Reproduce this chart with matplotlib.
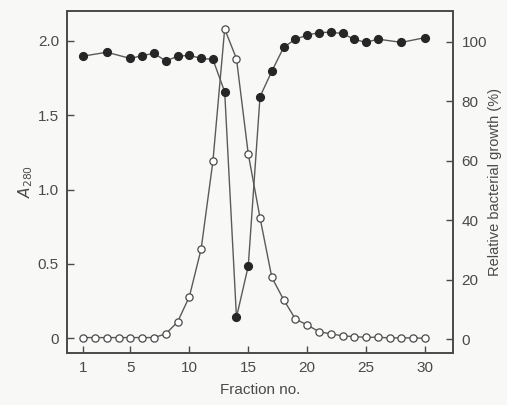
import matplotlib
matplotlib.use('Agg')
import matplotlib.pyplot as plt

# A280 (open circles), fractions 1-30
a280_fractions = list(range(1, 31))
a280 = [0.005, 0.005, 0.005, 0.005, 0.005, 0.005, 0.005, 0.03, 0.11, 0.28,
        0.60, 1.19, 2.08, 1.88, 1.24, 0.81, 0.41, 0.26, 0.13, 0.09,
        0.045, 0.03, 0.017, 0.011, 0.007, 0.007, 0.003, 0.003, 0.003, 0.0]

# relative bacterial growth (filled circles)
growth_fractions = [1, 3, 5, 6, 7, 8, 9, 10, 11, 12, 13, 14, 15, 16, 17, 18,
                    19, 20, 21, 22, 23, 24, 25, 26, 28, 30]
growth = [95.1, 96.4, 94.3, 95.3, 96.0, 93.5, 95.0, 95.4, 94.3, 94.0, 83.1,
          7.4, 24.6, 81.5, 90.0, 98.0, 100.8, 102.1, 103.0, 103.1, 102.7,
          100.7, 99.7, 100.8, 99.7, 101.3]

x_ticks = [1, 5, 10, 15, 20, 25, 30]
left_ticks = [0, 0.5, 1.0, 1.5, 2.0]
left_ticklabels = ['0', '0.5', '1.0', '1.5', '2.0']
right_ticks = [0, 20, 40, 60, 80, 100]

plt.rcParams['font.family'] = ['Liberation Sans', 'DejaVu Sans']
ink = '#4a4a4a'
bg = '#f8f8f6'

fig = plt.figure(figsize=(5.07, 4.05), dpi=100, facecolor=bg)
ax1 = fig.add_axes([0.1327, 0.129, 0.7613, 0.845])
ax1.set_facecolor(bg)
ax2 = ax1.twinx()

ax1.plot(a280_fractions, a280, color='#5a5a5a', lw=1.0, marker='o', ms=5.2,
         mfc='white', mec='#4a4a4a', mew=0.9, zorder=3)
ax2.plot(growth_fractions, growth, color='#5a5a5a', lw=1.0, marker='o', ms=5.6,
         mfc='#262626', mec='#262626', zorder=4)

ax1.set_xlim(-0.36, 32.4)
ax1.set_ylim(-0.097, 2.204)
ax2.set_ylim(-4.5, 110.4)

ax1.set_xticks(x_ticks)
ax1.set_yticks(left_ticks)
ax1.set_yticklabels(left_ticklabels)
ax2.set_yticks(right_ticks)

for ax in (ax1, ax2):
    ax.tick_params(direction='in', length=5, width=1.0, colors=ink,
                   labelsize=11, pad=6)
    for s in ax.spines.values():
        s.set_color(ink)
        s.set_linewidth(1.2)

ax1.set_xlabel('Fraction no.', fontsize=11, color=ink, labelpad=6)
ax1.set_ylabel('$A_{280}$', fontsize=11, color=ink, labelpad=2)
ax2.set_ylabel('Relative bacterial growth (%)', fontsize=10.5, color=ink,
               labelpad=1)

fig.savefig('out.png', dpi=100, facecolor=bg)
